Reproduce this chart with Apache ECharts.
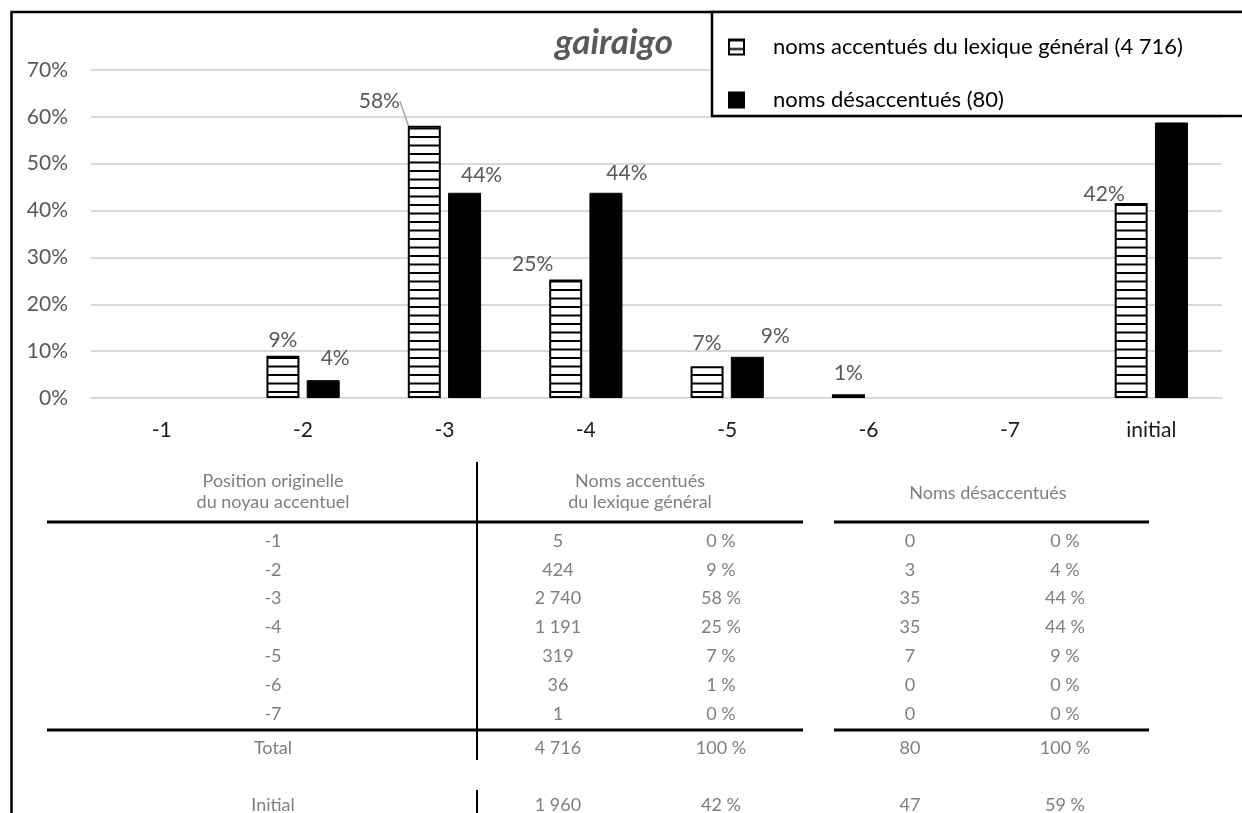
<!DOCTYPE html>
<html>
<head>
<meta charset="utf-8">
<script src="https://cdn.jsdelivr.net/npm/echarts@6/dist/echarts.min.js"></script>
<style>
html, body {margin: 0; padding: 0; background: #fff;}
#main {width: 1242px; height: 813px;}
</style>
</head>
<body>
<div id="main"></div>
<script>
// chart data (percent)
var categories = ['-1', '-2', '-3', '-4', '-5', '-6', '-7', 'initial'];
var accentues = [0, 9.0, 58.1, 25.3, 6.8, 0.8, 0, 41.6];
var desaccentues = [0, 3.8, 43.8, 43.8, 8.8, 0, 0, 58.8];
var seriesNames = ['noms accentués du lexique général (4 716)', 'noms désaccentués (80)'];

// table below the chart
var tableHead = ['Position originelle', 'du noyau accentuel'];
var accHead = ['Noms accentués', 'du lexique général'];
var desHead = 'Noms désaccentués';
var positions = ['-1', '-2', '-3', '-4', '-5', '-6', '-7'];
var accCounts = ['5', '424', '2 740', '1 191', '319', '36', '1'];
var accPct = ['0 %', '9 %', '58 %', '25 %', '7 %', '1 %', '0 %'];
var desCounts = ['0', '3', '35', '35', '7', '0', '0'];
var desPct = ['0 %', '4 %', '44 %', '44 %', '9 %', '0 %', '0 %'];
var totalRow = ['Total', '4 716', '100 %', '80', '100 %'];
var initialRow = ['Initial', '1 960', '42 %', '47', '59 %'];

var FONT = 'Lato, "Open Sans", sans-serif';

// label nudges (dx, dy) per bar, the original places them by hand
var accNudge = [[0, 0], [0, 0], [-45, -9], [-33, 0], [0, -7], [0, -6], [0, 0], [-27, 7]];
var desNudge = [[0, 0], [12, -6], [17, -2], [21, -4], [28, -5], [0, 0], [0, 0], [0, 0]];

function stripes() {
    var c = document.createElement('canvas');
    c.width = 8; c.height = 17;
    var ctx = c.getContext('2d');
    ctx.fillStyle = '#fff';
    ctx.fillRect(0, 0, 8, 17);
    ctx.fillStyle = '#000';
    ctx.fillRect(0, 0, 8, 2);
    ctx.fillRect(0, 8.5, 8, 2);
    return c;
}

function pctLabel(p) {
    var v = Math.round(p.value);
    return v === 0 ? '' : v + '%';
}

function barData(values, hideLast) {
    return values.map(function (v, i) {
        var item = {value: v};
        if (v === 0) item.itemStyle = {borderWidth: 0};
        if (hideLast && i === values.length - 1) item.label = {show: false};
        return item;
    });
}

var accData = barData(accentues, false);
accData[2].labelLine = {show: true, smooth: false, lineStyle: {color: '#a6a6a6', width: 1.5}};

var chart = echarts.init(document.getElementById('main'));

// table graphics
var gfx = [];
var txtColor = '#7f7f7f';
function txt(s, x, y) {
    gfx.push({
        type: 'text', x: x, y: y, silent: true,
        style: {text: s, fill: txtColor, font: '18px ' + FONT,
            align: 'center', verticalAlign: 'middle',
            textAlign: 'center', textVerticalAlign: 'middle'}
    });
}
function line(x1, y1, x2, y2, w) {
    gfx.push({
        type: 'line', silent: true,
        shape: {x1: x1, y1: y1, x2: x2, y2: y2},
        style: {stroke: '#000', lineWidth: w}
    });
}

var colX = [273, 558, 721, 910, 1065];
txt(tableHead[0], colX[0], 481);
txt(tableHead[1], colX[0], 502);
txt(accHead[0], 640, 481);
txt(accHead[1], 640, 502);
txt(desHead, 988, 493);
positions.forEach(function (p, i) {
    var y = 541 + i * 28.8;
    txt(p, colX[0], y);
    txt(accCounts[i], colX[1], y);
    txt(accPct[i], colX[2], y);
    txt(desCounts[i], colX[3], y);
    txt(desPct[i], colX[4], y);
});
totalRow.forEach(function (s, j) { txt(s, colX[j], 748); });
initialRow.forEach(function (s, j) { txt(s, colX[j], 805); });

line(47, 522, 803, 522, 3);
line(834, 522, 1149, 522, 3);
line(47, 730, 803, 730, 3);
line(834, 730, 1149, 730, 3);
line(477, 462, 477, 760, 2);
line(477, 790, 477, 813, 2);

// outer frame and legend box
gfx.push({type: 'rect', silent: true, shape: {x: 11.5, y: 12, width: 1400, height: 900},
    style: {fill: null, stroke: '#000', lineWidth: 2.5}});
gfx.push({type: 'rect', silent: true, shape: {x: 712, y: 12, width: 700, height: 104},
    style: {fill: '#fff', stroke: '#000', lineWidth: 2.5}, z: 5});

var option = {
    backgroundColor: '#fff',
    animation: false,
    title: {
        text: 'gairaigo',
        right: 564, top: 20,
        textStyle: {fontFamily: FONT, fontSize: 35, fontWeight: 'bold', fontStyle: 'italic', color: '#595959'}
    },
    legend: {
        orient: 'vertical',
        left: 728, top: 36,
        padding: 0,
        icon: 'rect',
        itemWidth: 15, itemHeight: 15,
        itemGap: 31,
        z: 10,
        textStyle: {fontFamily: FONT, fontSize: 22, lineHeight: 22, color: '#000', padding: [0, 0, 0, 24]},
        data: seriesNames
    },
    grid: {left: 91, right: 20, top: 70, bottom: 415},
    xAxis: {
        type: 'category',
        data: categories,
        axisLine: {lineStyle: {color: '#d9d9d9', width: 2}},
        axisTick: {show: false},
        axisLabel: {fontFamily: FONT, fontSize: 21, color: '#1a1a1a', margin: 22}
    },
    yAxis: {
        type: 'value',
        min: 0, max: 70, interval: 10,
        axisLabel: {formatter: '{value}%', fontFamily: FONT, fontSize: 21, color: '#595959', margin: 23},
        splitLine: {lineStyle: {color: '#d9d9d9', width: 2}}
    },
    series: [
        {
            name: seriesNames[0],
            type: 'bar',
            barWidth: 33,
            barGap: '22%',
            data: accData,
            itemStyle: {color: {image: stripes(), repeat: 'repeat'}, borderColor: '#000', borderWidth: 2},
            label: {show: true, position: 'top', formatter: pctLabel,
                fontFamily: FONT, fontSize: 21, color: '#595959'},
            labelLayout: function (p) {
                var n = accNudge[p.dataIndex];
                return {dx: n[0], dy: n[1]};
            }
        },
        {
            name: seriesNames[1],
            type: 'bar',
            barWidth: 33,
            data: barData(desaccentues, true),
            itemStyle: {color: '#000', borderColor: '#000', borderWidth: 1},
            label: {show: true, position: 'top', formatter: pctLabel,
                fontFamily: FONT, fontSize: 21, color: '#595959'},
            labelLayout: function (p) {
                var n = desNudge[p.dataIndex];
                return {dx: n[0], dy: n[1]};
            }
        }
    ],
    graphic: gfx
};

chart.setOption(option);
</script>
</body>
</html>
